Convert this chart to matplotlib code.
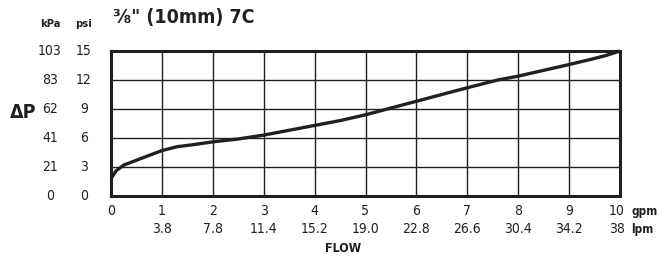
import matplotlib.pyplot as plt
import matplotlib.transforms as mtransforms

# data
FLOW_GPM = [0.0, 0.1, 0.25, 0.5, 0.75, 1.0, 1.3, 1.6, 2.0, 2.5, 3.0, 3.5, 4.0, 4.5,
            5.0, 5.5, 6.0, 6.5, 7.0, 7.6, 8.0, 8.5, 9.0, 9.4, 9.7, 10.0]
DP_PSI = [1.8, 2.6, 3.2, 3.7, 4.2, 4.7, 5.1, 5.3, 5.6, 5.9, 6.3, 6.8, 7.3, 7.8,
          8.4, 9.1, 9.8, 10.5, 11.2, 12.0, 12.4, 13.0, 13.6, 14.1, 14.5, 15.0]

GPM_TICKS = [0, 1, 2, 3, 4, 5, 6, 7, 8, 9, 10]
LPM_LABELS = ['', '3.8', '7.8', '11.4', '15.2', '19.0', '22.8', '26.6', '30.4', '34.2', '38']
PSI_TICKS = [0, 3, 6, 9, 12, 15]
KPA_LABELS = ['0', '21', '41', '62', '83', '103']

W, H, DPI = 659, 261, 100
INK = '#231f20'

plt.rcParams['font.family'] = ['DejaVu Sans']
plt.rcParams['font.stretch'] = 'condensed'

fig = plt.figure(figsize=(W / DPI, H / DPI), dpi=DPI)
ax = fig.add_axes([111 / W, 1 - 196 / H, (620 - 111) / W, (196 - 51) / H])

ax.plot(FLOW_GPM, DP_PSI, color=INK, lw=2.4, solid_capstyle='butt', clip_on=False)

ax.set_xlim(0, 10)
ax.set_ylim(0, 15)
ax.set_xticks(GPM_TICKS)
ax.set_yticks(PSI_TICKS)
ax.set_xticklabels([])
ax.set_yticklabels([])
ax.grid(True, color=INK, lw=1.0)
ax.set_axisbelow(True)
for sp in ax.spines.values():
    sp.set_linewidth(2.2)
    sp.set_color(INK)
ax.tick_params(length=0)

tx = mtransforms.blended_transform_factory(ax.transData, fig.transFigure)
for g, l in zip(GPM_TICKS, LPM_LABELS):
    xg = g - 0.06 if g == 10 else g
    ax.text(xg, 1 - 211 / H, str(g), transform=tx, ha='center', va='center',
            fontsize=10, color=INK, fontstretch='condensed')
    ax.text(xg, 1 - 229 / H, l, transform=tx, ha='center', va='center',
            fontsize=10, color=INK, fontstretch='condensed')
ty = mtransforms.blended_transform_factory(fig.transFigure, ax.transData)
for p, k in zip(PSI_TICKS, KPA_LABELS):
    ax.text(50 / W, p, k, transform=ty, ha='center', va='center',
            fontsize=10, color=INK, fontstretch='condensed')
    ax.text(84 / W, p, str(p), transform=ty, ha='center', va='center',
            fontsize=10, color=INK, fontstretch='condensed')

bold = dict(weight='bold', color=INK, fontstretch='condensed')
fig.text(631 / W, 1 - 211 / H, 'gpm', fontsize=8.5, va='center', **bold)
fig.text(631 / W, 1 - 229 / H, 'lpm', fontsize=8.5, va='center', **bold)
fig.text(343 / W, 1 - 248 / H, 'FLOW', fontsize=9, ha='center', va='center', **bold)
fig.text(50 / W, 1 - 24 / H, 'kPa', fontsize=8, ha='center', va='center', **bold)
fig.text(84 / W, 1 - 24 / H, 'psi', fontsize=8, ha='center', va='center', **bold)
fig.text(23 / W, 1 - 113 / H, 'ΔP', fontsize=14, ha='center', va='center', **bold)
fig.text(113 / W, 1 - 18 / H, '⅜" (10mm) 7C', fontsize=14, ha='left', va='center', **bold)

fig.savefig('out.png', dpi=DPI)
